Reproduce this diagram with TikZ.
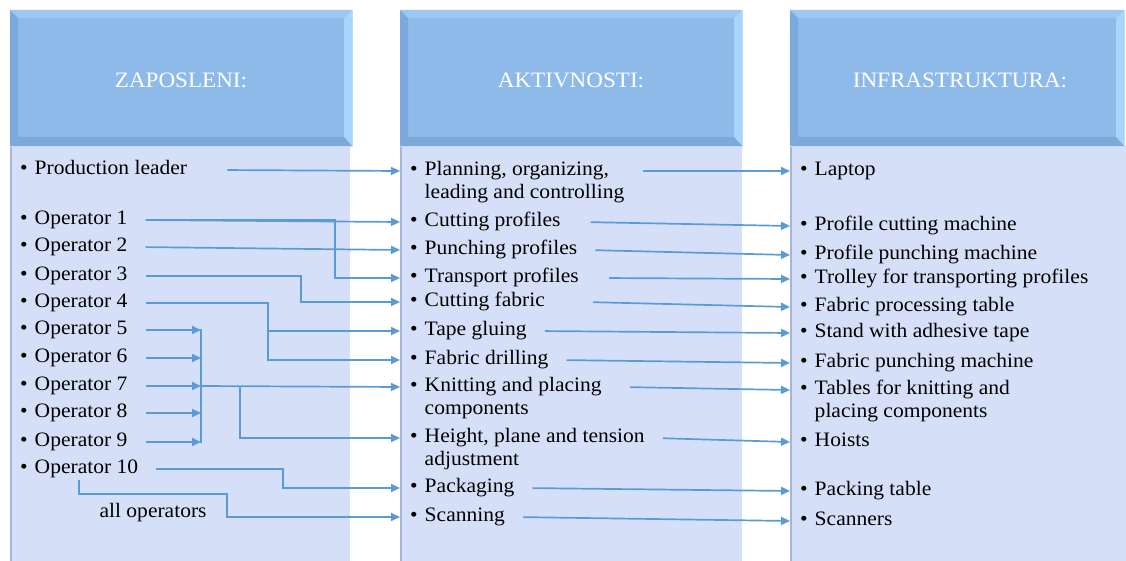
\documentclass[tikz,border=0pt]{standalone}
\usepackage{fontspec}
\setmainfont[FakeStretch=1.05]{Liberation Serif}
\usetikzlibrary{arrows.meta}
\definecolor{hdrface}{HTML}{8EBAEA}
\definecolor{hdrdark}{HTML}{7CA9DD}
\definecolor{hdrlow}{HTML}{7EA8D8}
\definecolor{hdrtop}{HTML}{9CC7F1}
\definecolor{hdrlite}{HTML}{A8D5FC}
\definecolor{hdredge}{HTML}{C4DCF4}
\definecolor{panel}{HTML}{D6DFF8}
\definecolor{panelrule}{HTML}{A7B4D9}
\definecolor{linkblue}{HTML}{5B9BD5}
\tikzset{
  item/.style={anchor=mid west,inner xsep=10pt,inner ysep=2pt,font=\rmfamily\fontsize{20.5}{23}\selectfont,text=black,execute at begin node={\textbullet\hspace{7pt}}},
  head/.style={font=\rmfamily\fontsize{22}{26}\selectfont,text=white},
  link/.style={-{Triangle[length=9pt,width=8pt]},line width=1.7pt,draw=linkblue},
  conn/.style={link,shorten <=8pt},
  wire/.style={line width=1.7pt,draw=linkblue},
}

\begin{document}
\fontsize{20.5}{23}\selectfont
\begin{tikzpicture}[x=1pt,y=-1pt]
  \useasboundingbox (0,0) rectangle (1126,561);
  % stupci
  \fill[panel] (10,146) rectangle (350,561);
  \fill[panel] (400,146) rectangle (742,561);
  \fill[panel] (790,146) rectangle (1126,561);
  \draw[panelrule,line width=1.5pt] (10.75,146) -- (10.75,561);
  \draw[panelrule,line width=1.5pt] (400.75,146) -- (400.75,561);
  \draw[panelrule,line width=1.5pt] (790.75,146) -- (790.75,561);
  % naslovi
  \filldraw[fill=hdrface,draw=hdredge] (10,10) rectangle (352,146);
  \fill[hdrdark] (10,10) -- (18,18) -- (18,137) -- (10,146) -- cycle;
  \fill[hdrtop] (10,10) -- (352,10) -- (344,18) -- (18,18) -- cycle;
  \fill[hdrlite] (352,10) -- (352,146) -- (344,137) -- (344,18) -- cycle;
  \fill[hdrlow] (10,146) -- (18,137) -- (344,137) -- (352,146) -- cycle;
  \filldraw[fill=hdrface,draw=hdredge] (400,10) rectangle (742,146);
  \fill[hdrdark] (400,10) -- (408,18) -- (408,137) -- (400,146) -- cycle;
  \fill[hdrtop] (400,10) -- (742,10) -- (734,18) -- (408,18) -- cycle;
  \fill[hdrlite] (742,10) -- (742,146) -- (734,137) -- (734,18) -- cycle;
  \fill[hdrlow] (400,146) -- (408,137) -- (734,137) -- (742,146) -- cycle;
  \filldraw[fill=hdrface,draw=hdredge] (790,10) rectangle (1124,146);
  \fill[hdrdark] (790,10) -- (798,18) -- (798,137) -- (790,146) -- cycle;
  \fill[hdrtop] (790,10) -- (1124,10) -- (1116,18) -- (798,18) -- cycle;
  \fill[hdrlite] (1124,10) -- (1124,146) -- (1116,137) -- (1116,18) -- cycle;
  \fill[hdrlow] (790,146) -- (798,137) -- (1116,137) -- (1124,146) -- cycle;
  \node[head] (hzap) at (181,80) {ZAPOSLENI:};
  \node[head] (hakt) at (571,80) {AKTIVNOSTI:};
  \node[head] (hinf) at (960,80) {INFRASTRUKTURA:};
  % zaposleni
  \node[item] (lead) at (10,170) {Production leader};
  \node[item] (op1) at (10,220) {Operator 1};
  \node[item] (op2) at (10,247) {Operator 2};
  \node[item] (op3) at (10,276) {Operator 3};
  \node[item] (op4) at (10,303) {Operator 4};
  \node[item] (op5) at (10,330) {Operator 5};
  \node[item] (op6) at (10,358) {Operator 6};
  \node[item] (op7) at (10,386) {Operator 7};
  \node[item] (op8) at (10,413) {Operator 8};
  \node[item] (op9) at (10,442) {Operator 9};
  \node[item] (op10) at (10,469) {Operator 10};
  % aktivnosti
  \node[item] (plan) at (400,171) {\begin{tabular}[t]{@{}l@{}}Planning, organizing,\\leading and controlling\end{tabular}};
  \node[item] (cutp) at (400,222) {Cutting profiles};
  \node[item] (punp) at (400,250) {Punching profiles};
  \node[item] (trp) at (400,278) {Transport profiles};
  \node[item] (cutf) at (400,302) {Cutting fabric};
  \node[item] (tape) at (400,331) {Tape gluing};
  \node[item] (drill) at (400,360) {Fabric drilling};
  \node[item] (knit) at (400,387) {\begin{tabular}[t]{@{}l@{}}Knitting and placing\\components\end{tabular}};
  \node[item] (height) at (400,438) {\begin{tabular}[t]{@{}l@{}}Height, plane and tension\\adjustment\end{tabular}};
  \node[item] (pack) at (400,488) {Packaging};
  \node[item] (scan) at (400,517) {Scanning};
  % infrastruktura
  \node[item] (laptop) at (790,171) {Laptop};
  \node[item] (pcm) at (790,226) {Profile cutting machine};
  \node[item] (ppm) at (790,255) {Profile punching machine};
  \node[item] (trolley) at (790,279) {Trolley for transporting profiles};
  \node[item] (fpt) at (790,307) {Fabric processing table};
  \node[item] (stand) at (790,333) {Stand with adhesive tape};
  \node[item] (fpm) at (790,363) {Fabric punching machine};
  \node[item] (tables) at (790,390) {\begin{tabular}[t]{@{}l@{}}Tables for knitting and\\placing components\end{tabular}};
  \node[item] (hoists) at (790,442) {Hoists};
  \node[item] (packt) at (790,491) {Packing table};
  \node[item] (scanners) at (790,521) {Scanners};
  % cvorista
  \coordinate (j1) at (335,0);
  \coordinate (j3) at (301,0);
  \coordinate (j4) at (268,0);
  \coordinate (jb) at (201,0);
  \coordinate (j7) at (240,0);
  \coordinate (j10) at (283,0);
  \coordinate (jall) at (227,494);
  % zaposleni -> aktivnosti
  \draw[conn] ([xshift=22pt]lead.mid east) -- (plan.mid west);
  \draw[conn] (op1.mid east) -- (cutp.mid west);
  \draw[conn] (op1.mid east) -| (j1 |- trp.mid west) -- (trp.mid west);
  \draw[conn] (op2.mid east) -- (punp.mid west);
  \draw[conn] (op3.mid east) -| (j3 |- cutf.mid west) -- (cutf.mid west);
  \draw[conn] (op4.mid east) -| (j4 |- drill.mid west) -- (drill.mid west);
  \draw[link] (j4 |- tape.mid west) -- (tape.mid west);
  \draw[conn] (op5.mid east) -- (op5.mid east -| jb);
  \draw[conn] (op6.mid east) -- (op6.mid east -| jb);
  \draw[conn] (op7.mid east) -- (op7.mid east -| jb);
  \draw[conn] (op8.mid east) -- (op8.mid east -| jb);
  \draw[conn] (op9.mid east) -- (op9.mid east -| jb);
  \draw[wire] ([yshift=1pt]jb |- op5.mid east) -- ([yshift=-1pt]jb |- op9.mid east);
  \draw[link] (jb |- op7.mid east) -- (knit.mid west);
  \draw[link] (j7 |- op7.mid east) |- (height.mid west);
  \draw[conn] (op10.mid east) -| (j10 |- pack.mid west) -- (pack.mid west);
  \draw[link] (op10.south) |- (jall) node[pos=0.75,below,font=\rmfamily\fontsize{20.5}{23}\selectfont,yshift=-2pt] (allop) {all operators} |- (scan.mid west);
  % aktivnosti -> infrastruktura
  \draw[conn] (plan.mid east) -- (laptop.mid west);
  \draw[conn] ([xshift=12pt]cutp.mid east) -- (pcm.mid west);
  \draw[conn] (punp.mid east) -- (ppm.mid west);
  \draw[conn] ([xshift=12pt]trp.mid east) -- (trolley.mid west);
  \draw[conn] ([xshift=30pt]cutf.mid east) -- (fpt.mid west);
  \draw[conn] (tape.mid east) -- (stand.mid west);
  \draw[conn] (drill.mid east) -- (fpm.mid west);
  \draw[conn] ([xshift=10pt]knit.mid east) -- (tables.mid west);
  \draw[conn] (height.mid east) -- (hoists.mid west);
  \draw[conn] (pack.mid east) -- (packt.mid west);
  \draw[conn] (scan.mid east) -- (scanners.mid west);
\end{tikzpicture}
\end{document}
